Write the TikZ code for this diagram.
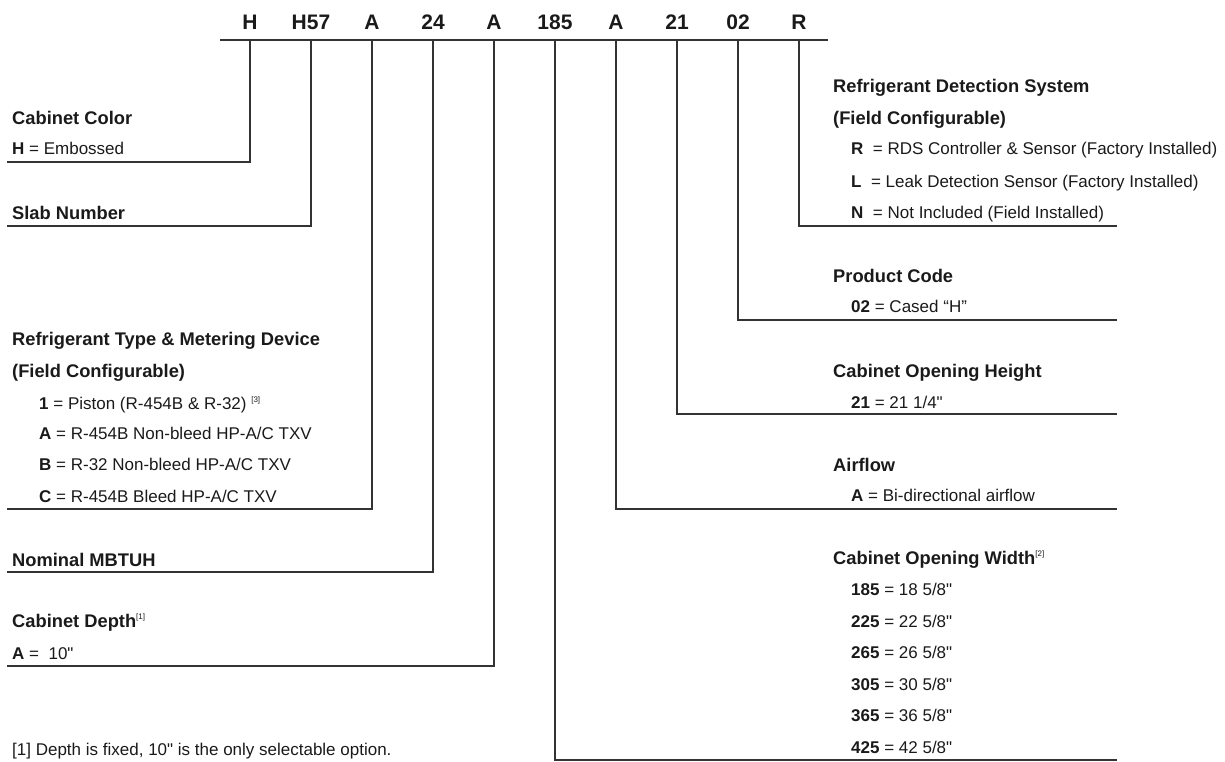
\documentclass[tikz,border=0pt]{standalone}
\usepackage{fontspec}
\setmainfont{Liberation Sans}[Ligatures=TeXOff]
\definecolor{txt}{HTML}{1A1A1A}
\definecolor{ln}{HTML}{333333}
\newcommand{\ih}{"}
\newcommand{\sq}[1]{\raisebox{0.75ex}{\fontsize{8}{8}\selectfont\mdseries #1}}
\begin{document}
\begin{tikzpicture}[x=1pt,y=-1pt,
  code/.style={anchor=base,inner sep=0pt,font=\fontsize{21}{21}\selectfont\bfseries,text=txt},
  head/.style={anchor=base west,inner sep=0pt,font=\fontsize{18.3}{18.3}\selectfont\bfseries,text=txt},
  item/.style={anchor=base west,inner sep=0pt,font=\fontsize{17}{17}\selectfont,text=txt},
  conn/.style={draw=ln,line width=1.5pt}]
\useasboundingbox (0,0) rectangle (1225,762);
% header
\coordinate (hl) at (220,40);
\coordinate (hr) at (828,40);
\draw[conn] (hl) -- (hr);
\node[code] (c1) at (250,30) {H};
\node[code] (c2) at (311,30) {H57};
\node[code] (c3) at (372,30) {A};
\node[code] (c4) at (433,30) {24};
\node[code] (c5) at (494,30) {A};
\node[code] (c6) at (555,30) {185};
\node[code] (c7) at (616,30) {A};
\node[code] (c8) at (677,30) {21};
\node[code] (c9) at (738,30) {02};
\node[code] (c10) at (799,30) {R};
% end points
\coordinate (e1) at (7,162);
\coordinate (e2) at (7,226);
\coordinate (e3) at (7,509);
\coordinate (e4) at (7,572);
\coordinate (e5) at (7,666);
\coordinate (e6) at (1117,760);
\coordinate (e7) at (1117,509);
\coordinate (e8) at (1117,414);
\coordinate (e9) at (1117,320);
\coordinate (e10) at (1117,226);
\foreach \i in {1,...,10}{\draw[conn] (c\i |- hl) |- (e\i);}
% left labels
\node[head] (l1) at (12,125) {Cabinet Color};
\node[item] (l1a) at (12,155) {\textbf{H} = Embossed};
\node[head] (l2) at (12,219) {Slab Number};
\node[head] (l3) at (12,345) {Refrigerant Type \& Metering Device};
\node[head] (l3b) at (12,377) {(Field Configurable)};
\node[item] (l3c) at (39,409) {\textbf{1} = Piston (R-454B \& R-32) \sq{[3]}};
\node[item] (l3d) at (39,439) {\textbf{A} = R-454B Non-bleed HP-A/C TXV};
\node[item] (l3e) at (39,470) {\textbf{B} = R-32 Non-bleed HP-A/C TXV};
\node[item] (l3f) at (39,502) {\textbf{C} = R-454B Bleed HP-A/C TXV};
\node[head] (l4) at (12,566) {Nominal MBTUH};
\node[head] (l5) at (12,627) {Cabinet Depth\sq{[1]}};
\node[item] (l5a) at (12,659) {\textbf{A} =~~10\ih};
\node[item] (fn) at (12,755) {[1] Depth is fixed, 10\ih{} is the only selectable option.};
% right labels
\node[head] (r1) at (833,93) {Refrigerant Detection System};
\node[head] (r1b) at (833,125) {(Field Configurable)};
\node[item] (r1c) at (851,155) {\textbf{R}~~= RDS Controller \& Sensor (Factory Installed)};
\node[item] (r1d) at (851,187) {\textbf{L}~~= Leak Detection Sensor (Factory Installed)};
\node[item] (r1e) at (851,218) {\textbf{N}~~= Not Included (Field Installed)};
\node[head] (r2) at (833,282) {Product Code};
\node[item] (r2a) at (851,312) {\textbf{02} = Cased “H”};
\node[head] (r3) at (833,377) {Cabinet Opening Height};
\node[item] (r3a) at (851,408) {\textbf{21} = 21 1/4\ih};
\node[head] (r4) at (833,471) {Airflow};
\node[item] (r4a) at (851,501) {\textbf{A} = Bi-directional airflow};
\node[head] (r5) at (833,564) {Cabinet Opening Width\sq{[2]}};
\node[item] (r5a) at (851,595) {\textbf{185} = 18 5/8\ih};
\node[item] (r5b) at (851,627) {\textbf{225} = 22 5/8\ih};
\node[item] (r5c) at (851,658) {\textbf{265} = 26 5/8\ih};
\node[item] (r5d) at (851,690) {\textbf{305} = 30 5/8\ih};
\node[item] (r5e) at (851,721) {\textbf{365} = 36 5/8\ih};
\node[item] (r5f) at (851,753) {\textbf{425} = 42 5/8\ih};
\end{tikzpicture}
\end{document}
